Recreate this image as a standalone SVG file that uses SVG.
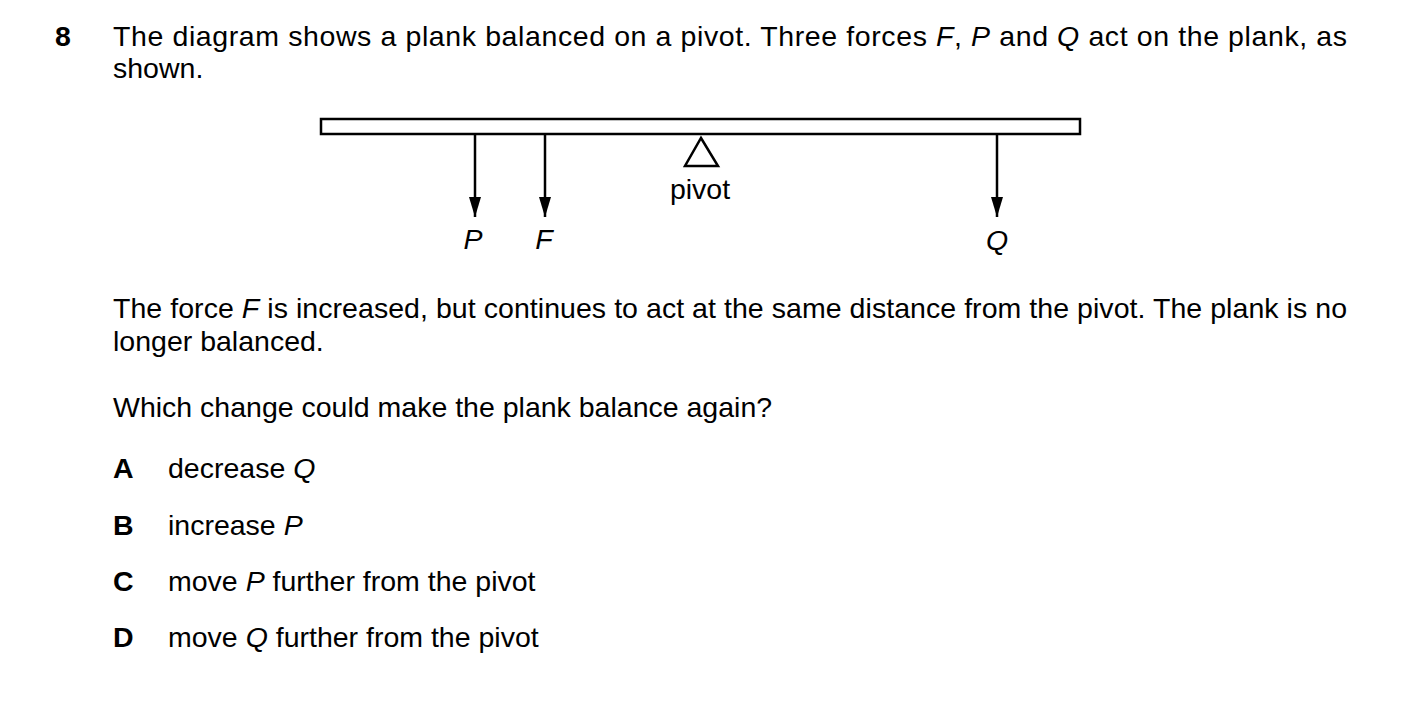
<svg xmlns="http://www.w3.org/2000/svg" width="1403" height="701" viewBox="0 0 1403 701">
<style>
text{font-family:"Liberation Sans",Arial,sans-serif;font-size:28.5px;fill:#000}
.b{font-weight:bold}
.l{stroke:#000;stroke-width:2.5;fill:none}
</style>
<defs><marker id="ah" markerWidth="20" markerHeight="12" refX="20" refY="6" orient="auto" markerUnits="userSpaceOnUse" viewBox="0 0 20 12"><path d="M0,0 L20,6 L0,12 Z" fill="#000"/></marker></defs>
<rect width="1403" height="701" fill="#fff"/>
<text class="b" x="55" y="46">8</text>
<text x="113" y="46" textLength="1234" lengthAdjust="spacing">The diagram shows a plank balanced on a pivot. Three forces <tspan font-style="italic">F</tspan>, <tspan font-style="italic">P</tspan> and <tspan font-style="italic">Q</tspan> act on the plank, as</text>
<text x="113" y="78">shown.</text>
<g id="plank"><rect x="321" y="119" width="759" height="15" class="l"/></g>
<g id="pivot"><path d="M701,138 L718,166 L685,166 Z" class="l"/><text x="700" y="199" text-anchor="middle">pivot</text></g>
<g id="connectors">
<line x1="475" y1="134" x2="475" y2="217" class="l" marker-end="url(#ah)"/>
<line x1="545" y1="134" x2="545" y2="217" class="l" marker-end="url(#ah)"/>
<line x1="997" y1="134" x2="997" y2="217" class="l" marker-end="url(#ah)"/>
</g>
<g id="labels">
<text x="473" y="249" text-anchor="middle" font-style="italic">P</text>
<text x="544" y="249" text-anchor="middle" font-style="italic">F</text>
<text x="997" y="250" text-anchor="middle" font-style="italic">Q</text>
</g>
<text x="113" y="318" textLength="1234" lengthAdjust="spacing">The force <tspan font-style="italic">F</tspan> is increased, but continues to act at the same distance from the pivot. The plank is no</text>
<text x="113" y="351">longer balanced.</text>
<text x="113" y="417">Which change could make the plank balance again?</text>
<text class="b" x="113" y="478">A</text><text x="168" y="478">decrease <tspan font-style="italic">Q</tspan></text>
<text class="b" x="113" y="535">B</text><text x="168" y="535">increase <tspan font-style="italic">P</tspan></text>
<text class="b" x="113" y="591">C</text><text x="168" y="591">move <tspan font-style="italic">P</tspan> further from the pivot</text>
<text class="b" x="113" y="647">D</text><text x="168" y="647">move <tspan font-style="italic">Q</tspan> further from the pivot</text>
</svg>
